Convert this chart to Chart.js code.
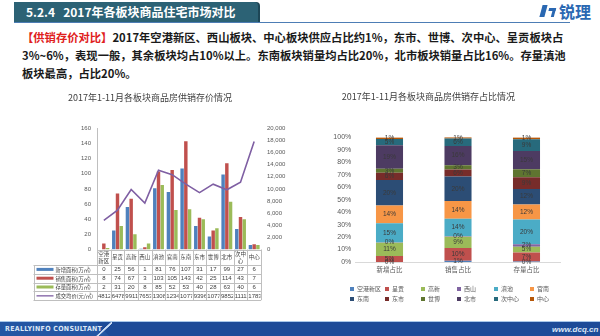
<!DOCTYPE html>
<html>
<head>
<meta charset="utf-8">
<script src="https://cdn.jsdelivr.net/npm/chart.js@4.4.0/dist/chart.umd.min.js"></script>
<style>
  body { margin: 0; width: 600px; height: 336px; position: relative; overflow: hidden; background: #fff; font-family: "Noto Sans CJK SC", sans-serif; }
  .abs { position: absolute; }
  #tab { left: 14px; top: 2px; width: 232px; height: 20px; padding-left: 12px; background: #2C6275; color: #fff; font: bold 12px/20px "Noto Sans CJK SC"; border-radius: 0 4px 0 0; box-shadow: 2px 0 0 #1d4656; white-space: nowrap; }
  #rule { left: 14px; top: 22px; width: 556px; height: 1px; background: #4d7db5; }
  #logo { left: 559px; top: 1px; font: bold 16px/20px "Noto Sans CJK SC"; color: #2a68b2; }
  .para { left: 22px; font: bold 11.3px/18px "Noto Sans CJK SC"; color: #1a1a1a; white-space: nowrap; }
  .red { color: #e0201c; }
  #left { left: 0; top: 90px; }
  #right { left: 296px; top: 90px; }
  #legend { left: 350px; top: 284px; width: 230px; font: 6px "Noto Sans CJK SC"; color: #595959; }
  .li { position: absolute; white-space: nowrap; }
  .li i { display: inline-block; width: 4px; height: 4px; margin-right: 3px; vertical-align: middle; }
  #foot { left: 0; top: 321px; width: 600px; height: 15px; background: #1d4b98; border-top: 1px solid #a9c8ea; }
  #footL { left: 0; top: 0; width: 110px; height: 15px; background: #2456a3; clip-path: polygon(0 0, 96px 0, 110px 15px, 0 15px); }
  #footL2 { left: 96px; top: 0; width: 16px; height: 15px; background: linear-gradient(to bottom right, transparent 46%, #c9dbf3 48%, #c9dbf3 54%, transparent 56%); }
  #footT { left: 5px; top: 0; font: bold 7px/15px "Liberation Sans Narrow", "DejaVu Sans Condensed", sans-serif; color: #dce7f6; letter-spacing: 0.3px; }
  #footW { left: 552px; top: 0; font: italic bold 8px/15px "Liberation Sans", sans-serif; color: #dce7f6; }
</style>
</head>
<body>
<div id="tab" class="abs">5.2.4&nbsp;&nbsp;&nbsp;2017年各板块商品住宅市场对比</div>
<div id="rule" class="abs"></div>
<div class="abs" style="left:541px;top:5px;width:5px;height:12px;background:#2a68b2;transform:skewX(-15deg)"></div>
<div class="abs" style="left:548px;top:8px;width:7px;height:9px;border-top:3px solid #2a68b2;border-right:3px solid #2a68b2;box-sizing:border-box;transform:skewX(-15deg)"></div>
<div id="logo" class="abs">锐理</div>
<div class="abs para" style="top:28px"><span class="red">【供销存价对比】</span>2017年空港新区、西山板块、中心板块供应占比约1%，东市、世博、次中心、呈贡板块占</div>
<div class="abs para" style="top:46px">3%~6%，表现一般，其余板块均占10%以上。东南板块销量均占比20%，北市板块销量占比16%。存量滇池</div>
<div class="abs para" style="top:64px">板块最高，占比20%。</div>

<canvas id="left" class="abs" width="300" height="216"></canvas>
<canvas id="right" class="abs" width="300" height="190"></canvas>
<div id="legend" class="abs"></div>

<div id="foot" class="abs">
  <div id="footL" class="abs"></div>
  <div id="footL2" class="abs"></div>
  <div id="footT" class="abs">REALLYINFO CONSULTANT</div>
  <div id="footW" class="abs">www.dcq.cn</div>
</div>

<script>
const districts = ["空港新区", "呈贡", "高新", "西山", "滇池", "官南", "东南", "东市", "世博", "北市", "次中心", "中心"];
const newArea = [0, 25, 56, 1, 81, 76, 107, 31, 17, 99, 27, 6];
const soldArea = [8, 74, 67, 3, 103, 105, 143, 42, 25, 114, 43, 7];
const stockArea = [2, 31, 20, 8, 85, 52, 53, 40, 28, 63, 40, 6];
const avgPrice = [4812, 6478, 9911, 7653, 13081, 12343, 10779, 9396, 10779, 9852, 11111, 17838];

const shareGroups = ["新增占比", "销售占比", "存量占比"];
const newShare = [0, 4.8, 10.6, 0.2, 15.4, 14.4, 20.3, 5.9, 3.2, 18.8, 5.1, 1.1];
const soldShare = [1.1, 10.1, 9.1, 0.4, 14.0, 14.3, 19.5, 5.7, 3.4, 15.5, 5.9, 1.0];
const stockShare = [0.4, 7.2, 4.7, 1.9, 19.9, 12.1, 12.4, 9.3, 6.5, 14.7, 9.3, 1.4];

const districtColors = ["#4F81BD", "#C0504D", "#9BBB59", "#8064A2", "#4BACC6", "#F79646",
                        "#2C4D75", "#772C2A", "#5F7530", "#4D3B62", "#276A7C", "#B65708"];

const FONT = "Noto Sans CJK SC";
const tickColor = "#595959";

// data table under the left chart, laid on the x scale
const tablePlugin = {
  id: "dataTable",
  afterDraw(chart) {
    const { ctx, chartArea: a, scales: { x } } = chart;
    const n = districts.length;
    const w = (a.right - a.left) / n;
    const top = a.bottom, catH = 15.5, rowH = 8.8, legL = 33.5;
    const rows = [
      { label: "新增面积(万㎡)", data: newArea, color: "#4F81BD", kind: "bar" },
      { label: "销售面积(万㎡)", data: soldArea, color: "#C0504D", kind: "bar" },
      { label: "存量面积(万㎡)", data: stockArea, color: "#9BBB59", kind: "bar" },
      { label: "成交均价(元/㎡)", data: avgPrice, color: "#7F5FA3", kind: "line" },
    ];
    const bottom = top + catH + rowH * rows.length;
    ctx.save();
    ctx.strokeStyle = "#bfbfbf";
    ctx.lineWidth = 1;
    const hl = (y, x0) => { ctx.beginPath(); ctx.moveTo(x0, Math.round(y) + 0.5); ctx.lineTo(a.right, Math.round(y) + 0.5); ctx.stroke(); };
    const vl = (xx, y0) => { ctx.beginPath(); ctx.moveTo(Math.round(xx) + 0.5, y0); ctx.lineTo(Math.round(xx) + 0.5, bottom); ctx.stroke(); };
    hl(top, a.left);
    for (let r = 0; r <= rows.length; r++) hl(top + catH + r * rowH, legL);
    vl(legL, top + catH);
    for (let i = 0; i <= n; i++) vl(a.left + i * w, top);

    ctx.fillStyle = "#404040";
    ctx.textAlign = "center";
    ctx.textBaseline = "middle";
    ctx.font = `5.5px "${FONT}"`;
    districts.forEach((d, i) => {
      const cx = x.getPixelForValue(i);
      if (d.length > 2) {
        ctx.fillText(d.slice(0, 2), cx, top + catH / 2 - 3);
        ctx.fillText(d.slice(2), cx, top + catH / 2 + 3.5);
      } else {
        ctx.fillText(d, cx, top + catH / 2);
      }
    });

    rows.forEach((row, r) => {
      const cy = top + catH + r * rowH + rowH / 2;
      ctx.fillStyle = row.color;
      if (row.kind === "bar") ctx.fillRect(legL + 3, cy - 1.5, 17, 3);
      else ctx.fillRect(legL + 3, cy - 0.6, 17, 1.3);
      ctx.fillStyle = "#404040";
      ctx.textAlign = "left";
      ctx.font = `5.3px "${FONT}"`;
      ctx.fillText(row.label, legL + 22, cy + 0.3);
      ctx.font = `6px "Liberation Sans"`;
      row.data.forEach((v, i) => {
        const cx = x.getPixelForValue(i);
        const s = String(v);
        ctx.save();
        ctx.beginPath();
        ctx.rect(cx - w / 2 + 0.5, cy - rowH / 2, w - 1, rowH);
        ctx.clip();
        if (s.length > 3) {
          ctx.textAlign = "left";
          ctx.fillText(s, cx - w / 2 + 1, cy + 0.3);
        } else {
          ctx.textAlign = "center";
          ctx.fillText(s, cx, cy + 0.3);
        }
        ctx.restore();
      });
    });
    ctx.restore();
  }
};

new Chart(document.getElementById("left"), {
  data: {
    labels: districts,
    datasets: [
      { type: "line", label: "成交均价(元/㎡)", data: avgPrice, yAxisID: "y1", borderColor: "#7F5FA3", borderWidth: 1.6, pointRadius: 0, tension: 0, order: 0 },
      { type: "bar", label: "新增面积(万㎡)", data: newArea, yAxisID: "y", backgroundColor: "#4F81BD", order: 1 },
      { type: "bar", label: "销售面积(万㎡)", data: soldArea, yAxisID: "y", backgroundColor: "#C0504D", order: 1 },
      { type: "bar", label: "存量面积(万㎡)", data: stockArea, yAxisID: "y", backgroundColor: "#9BBB59", order: 1 },
    ],
  },
  options: {
    responsive: false,
    animation: false,
    layout: { padding: { top: 0, bottom: 56.5, left: 0, right: 0 } },
    datasets: { bar: { categoryPercentage: 0.82, barPercentage: 0.92 } },
    plugins: {
      legend: { display: false },
      tooltip: { enabled: false },
      title: {
        display: true,
        text: "2017年1-11月各板块商品房供销存价情况",
        font: { size: 9, family: FONT, weight: "normal" },
        color: "#404040",
        padding: { top: 2.6, bottom: 24.9 },
      },
    },
    scales: {
      x: { display: false },
      y: {
        position: "left",
        min: 0, max: 160,
        ticks: { stepSize: 20, font: { size: 6, family: "Liberation Sans" }, color: tickColor, padding: 6 },
        grid: { display: false, drawTicks: false },
        border: { display: true, color: "#bfbfbf" },
        afterFit: (s) => { s.width = 97; },
      },
      y1: {
        position: "right",
        min: 0, max: 20000,
        ticks: { stepSize: 2000, font: { size: 6, family: "Liberation Sans" }, color: tickColor, padding: 6 },
        grid: { display: false, drawTicks: false },
        border: { display: false },
        afterFit: (s) => { s.width = 39; },
      },
    },
  },
  plugins: [tablePlugin],
});

// percentage labels inside the stacked segments
const segLabels = {
  id: "segLabels",
  afterDatasetsDraw(chart) {
    const { ctx } = chart;
    ctx.save();
    ctx.font = `6.5px "Liberation Sans"`;
    ctx.fillStyle = "#3a3a3a";
    ctx.textAlign = "center";
    ctx.textBaseline = "middle";
    chart.data.datasets.forEach((ds, di) => {
      chart.getDatasetMeta(di).data.forEach((bar, i) => {
        const v = ds.data[i];
        ctx.fillText(Math.round(v) + "%", bar.x, (bar.y + bar.base) / 2);
      });
    });
    ctx.restore();
  }
};

new Chart(document.getElementById("right"), {
  type: "bar",
  data: {
    labels: shareGroups,
    datasets: districts.map((d, i) => ({
      label: d,
      data: [newShare[i], soldShare[i], stockShare[i]],
      backgroundColor: districtColors[i],
    })),
  },
  options: {
    responsive: false,
    animation: false,
    layout: { padding: { top: 0, bottom: 0, left: 0, right: 35.25 } },
    datasets: { bar: { categoryPercentage: 1, barPercentage: 0.395 } },
    plugins: {
      legend: { display: false },
      tooltip: { enabled: false },
      title: {
        display: true,
        text: "2017年1-11月各板块商品房供销存占比情况",
        font: { size: 9, family: FONT, weight: "normal" },
        color: "#404040",
        padding: { top: 1.6, bottom: 34.9 },
      },
    },
    scales: {
      x: {
        stacked: true,
        ticks: { font: { size: 6.5, family: FONT }, color: tickColor, padding: 4 },
        grid: { display: false, drawTicks: false },
        border: { display: true, color: "#d9d9d9" },
        afterFit: (s) => { s.height = 18; },
      },
      y: {
        stacked: true,
        min: 0, max: 100,
        ticks: { stepSize: 10, callback: (v) => v + "%", font: { size: 7, family: "Liberation Sans" }, color: tickColor, padding: 4 },
        grid: { display: false, drawTicks: false },
        border: { display: false },
        afterFit: (s) => { s.width = 59.25; },
      },
    },
  },
  plugins: [segLabels],
});

// legend: two rows of six, in columns
const legendBox = document.getElementById("legend");
const colX = [0, 35, 71, 107, 144, 180];
districts.forEach((d, i) => {
  const el = document.createElement("div");
  el.className = "li";
  el.style.left = colX[i % 6] + "px";
  el.style.top = (i < 6 ? 0 : 10) + "px";
  el.innerHTML = `<i style="background:${districtColors[i]}"></i>${d}`;
  legendBox.appendChild(el);
});
</script>
</body>
</html>
